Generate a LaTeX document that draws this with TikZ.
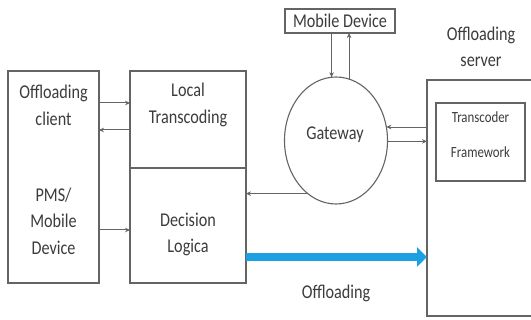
\documentclass[tikz,border=0pt]{standalone}
\usepackage{fontspec}
\setmainfont{Carlito}[FakeStretch=0.83]
\usetikzlibrary{arrows.meta,shapes.geometric}
\definecolor{linegray}{RGB}{100,100,100}
\definecolor{txtgray}{RGB}{60,60,60}
\definecolor{offblue}{RGB}{27,161,226}
\begin{document}
\begin{tikzpicture}[x=1pt,y=-1pt,
  box/.style={draw=linegray, line width=1.1pt, inner sep=0pt, outer sep=0pt},
  lbl/.style={text=txtgray, align=center, font=\fontsize{19.5}{26.5}\selectfont, inner sep=0pt},
  small/.style={text=txtgray, align=center, font=\fontsize{15.5}{35}\selectfont, inner sep=0pt},
  arr/.style={draw=linegray, line width=1pt, -{Stealth[length=5pt,width=4.5pt]}},
  bigarr/.style={draw=offblue, line width=8pt, -{Triangle[length=10pt,width=19pt]}},
]
\useasboundingbox (0,0) rectangle (531,320);
\fill[white] (0,0) rectangle (531,320);
% boxes
\node[box, minimum width=91pt, minimum height=212pt] (left) at (53.5,177) {};
\node[box, minimum width=116pt, minimum height=97pt] (local) at (188,119.5) {};
\node[box, minimum width=116pt, minimum height=115pt] (dec) at (188,225.5) {};
\node[box, minimum width=110pt, minimum height=24pt] (md) at (340,21) {};
\node[box, ellipse, minimum width=103pt, minimum height=127pt] (gw) at (336,140.5) {};
\node[box, minimum width=120pt, minimum height=236pt] (server) at (487,198) {};
\node[box, minimum width=89pt, minimum height=78pt] (tf) at (480.5,142) {};
% texts
\node[lbl] (tclient) at (53.5,105.5) {Offloading\\client};
\node[lbl] (tpms) at (53.5,221) {PMS/\\Mobile\\Device};
\node[lbl] (tlocal) at (188,105) {Local\\Transcoding};
\node[lbl] (tdec) at (188,234.5) {Decision\\Logica};
\node[lbl] (tmd) at (340,21) {Mobile Device};
\node[lbl] (tgw) at (335,135) {Gateway};
\node[lbl] (tserver) at (481,47) {Offloading\\server};
\node[small] (ttf) at (480.5,134.5) {Transcoder\\Framework};
\node[lbl] (toff) at (336,293) {Offloading};
% connectors
\draw[arr] (left.east |- 0,103) -- (local.west |- 0,103);
\draw[arr] (local.west |- 0,130) -- (left.east |- 0,130);
\draw[arr] (left.east |- 0,230) -- (dec.west |- 0,230);
\draw[arr] (gw.242.4) -- (gw.242.4 -| dec.east);
\draw[arr] (md.south -| gw.94.5) -- (gw.94.5);
\draw[arr] (gw.78) -- (gw.78 |- md.south);
\draw[arr] (server.west |- gw.15.6) -- (gw.15.6);
\draw[arr] (gw.-1.3) -- (gw.-1.3 -| server.west);
\draw[bigarr] (dec.east |- 0,257) -- (server.west |- 0,257);
\end{tikzpicture}
\end{document}
